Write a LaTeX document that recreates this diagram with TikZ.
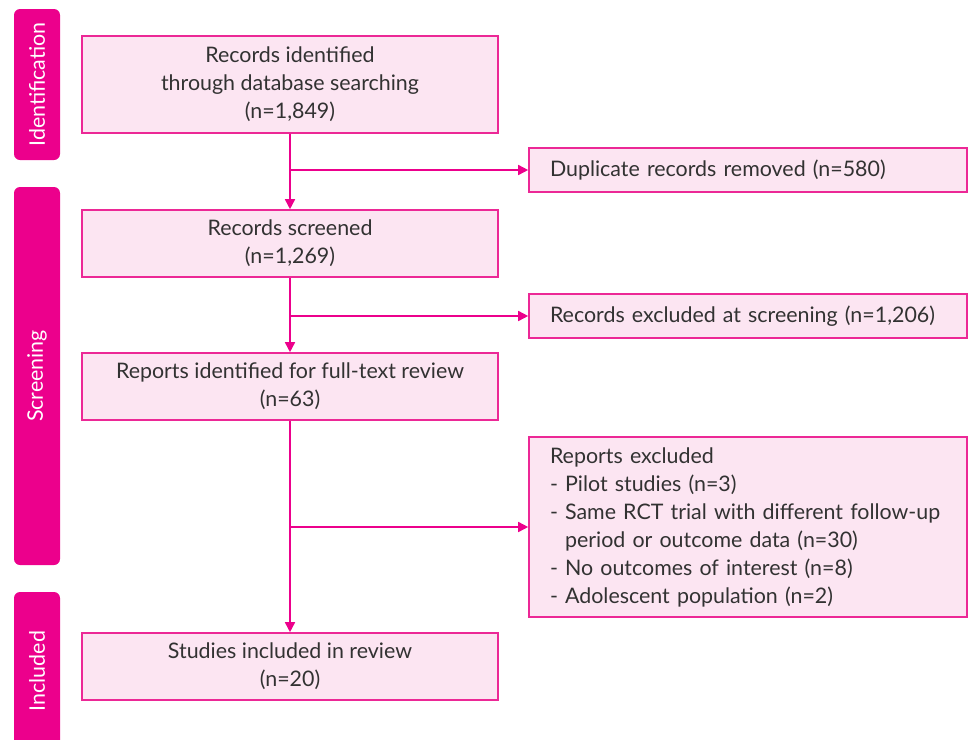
\documentclass[tikz,border=0pt]{standalone}
\usepackage{fontspec}
\setmainfont{Lato}
\usetikzlibrary{positioning, arrows.meta}
\definecolor{barcol}{RGB}{236,0,140}
\definecolor{boxline}{RGB}{236,40,150}
\definecolor{boxfill}{RGB}{252,229,242}
\definecolor{textcol}{RGB}{50,50,50}

\begin{document}
\begin{tikzpicture}[
			x=0.5pt,
			y=-0.5pt,
			node distance=3cm,
			on grid,
			font=\fontsize{10.7}{14}\selectfont,
			stage/.style={
				fill=barcol,
				rounded corners=3pt,
				minimum height=23pt,
				text=white,
				rotate=90,
				inner sep=0pt
			},
			mainbox/.style={
				draw=boxline,
				fill=boxfill,
				line width=0.8pt,
				minimum width=208pt,
				text=textcol,
				align=center
			},
			sidebox/.style={
				draw=boxline,
				fill=boxfill,
				line width=0.8pt,
				minimum width=219pt,
				text width=198pt,
				inner xsep=10.5pt,
				text=textcol,
				align=left
			},
			flow/.style={
				draw=barcol,
				line width=0.8pt,
				-{Triangle[length=5pt,width=5pt]}
			}
			]
			\useasboundingbox (0,0) rectangle (971,740);
			
			% Stages
			\node[stage, minimum width=75.5pt] (ident) at (37,84.5) {Identification};
			\node[stage, minimum width=189pt] (screen) at (37,376) {Screening};
			\node[stage, minimum width=79pt] (incl) at (37,671) {Included};
			
			% Main boxes
			\node[mainbox, minimum height=48.5pt] (found) at (290,84.5)
			{Records identified\\through database searching\\(n=1,849)};
			\node[mainbox, minimum height=33.5pt] (screened) [below=79.5pt of found]
			{Records screened\\(n=1,269)};
			\node[mainbox, minimum height=33.5pt] (fulltext) [below=71.5pt of screened]
			{Reports identified for full-text review\\(n=63)};
			\node[mainbox, minimum height=33.5pt] (included) [below=140pt of fulltext]
			{Studies included in review\\(n=20)};
			
			% Side boxes
			\node[sidebox, minimum height=22pt] (dup) at (748,170)
			{Duplicate records removed (n=580)};
			\node[sidebox, minimum height=22pt] (excl) at (748,316)
			{Records excluded at screening (n=1,206)};
			\node[sidebox, minimum height=90pt] (rep) at (748,527)
			{Reports excluded\\
				- Pilot studies (n=3)\\
				- Same RCT trial with different follow-up\\
				\hphantom{- }period or outcome data (n=30)\\
				- No outcomes of interest (n=8)\\
				- Adolescent population (n=2)};
			
			% Arrows
			\draw[flow] (found) -- (screened);
			\draw[flow] (screened) -- (fulltext);
			\draw[flow] (fulltext) -- (included);
			\draw[flow] (found.south |- dup.west) -- (dup.west);
			\draw[flow] (screened.south |- excl.west) -- (excl.west);
			\draw[flow] (fulltext.south |- rep.west) -- (rep.west);
		\end{tikzpicture}
\end{document}
